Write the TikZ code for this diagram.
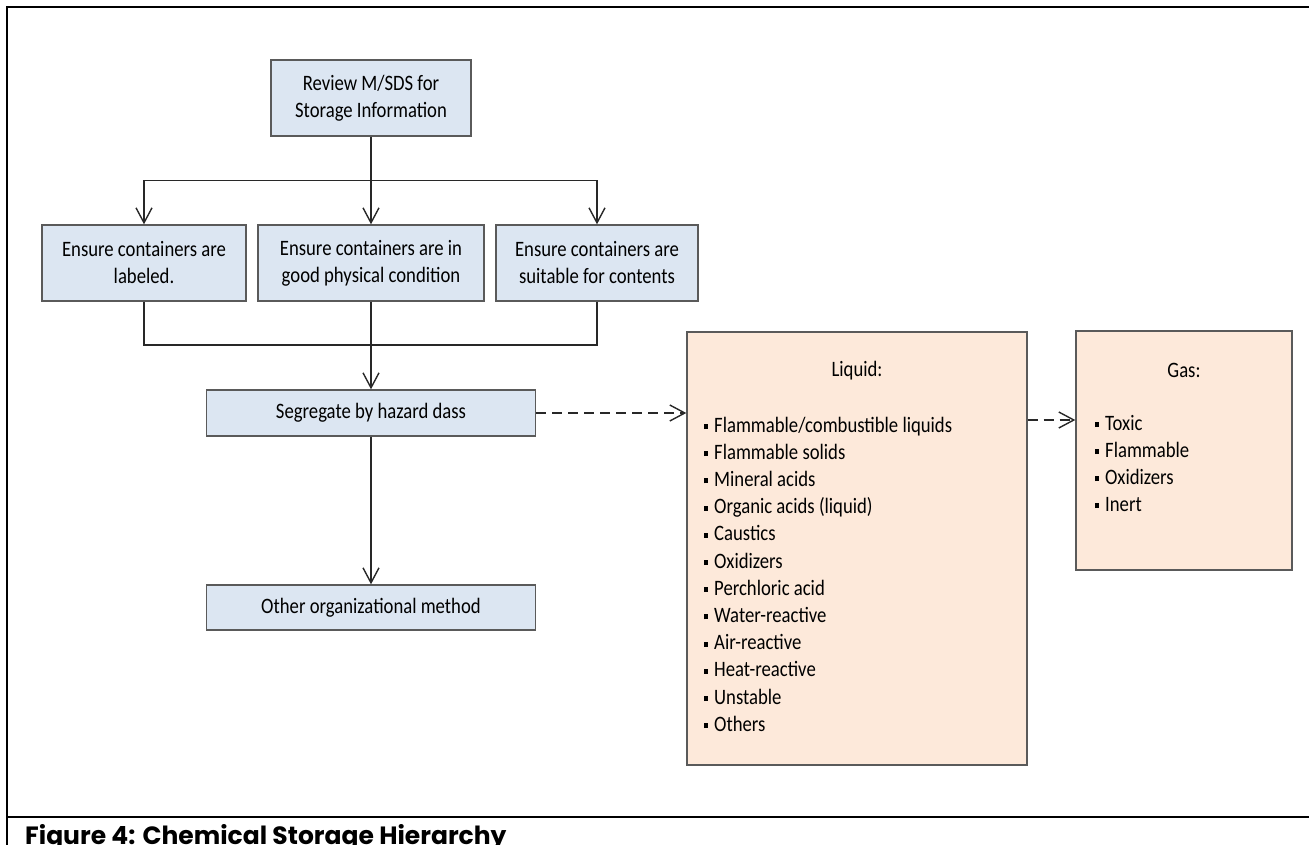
\documentclass[tikz,border=0pt]{standalone}
\usepackage{fontspec}
\setmainfont{Carlito}[FakeStretch=0.85]
\newfontfamily\capfont{Poppins}
\usetikzlibrary{arrows.meta}
\definecolor{boxblue}{RGB}{220, 230, 242}
\definecolor{boxpeach}{RGB}{253, 233, 218}
\definecolor{boxline}{RGB}{90, 90, 90}
\definecolor{linkgray}{RGB}{40, 40, 40}
\newcommand{\bul}{\rule[3pt]{4pt}{5pt}\hspace{6pt}}
\tikzset{
  bluebox/.style={draw=boxline, line width=1.4pt, fill=boxblue, align=center, inner sep=0pt, font=\fontsize{22}{27}\selectfont},
  peachbox/.style={draw=boxline, line width=1.4pt, fill=boxpeach, inner sep=0pt},
  boxhead/.style={inner sep=0pt, font=\fontsize{22}{27}\selectfont},
  listitem/.style={anchor=west, inner sep=0pt, text height=14pt, text depth=4pt, font=\fontsize{22}{27}\selectfont},
  link/.style={draw=linkgray, line width=1.4pt},
  dashlink/.style={link, dash pattern=on 10pt off 6pt},
  arrowlink/.style={-{Straight Barb[length=15pt, width=16pt, line width=1.4pt]}},
}

\begin{document}
\begin{tikzpicture}[x=1pt, y=-1pt]
      \useasboundingbox (0,0) rectangle (1309,845);

      % Frame
      \draw[line width=2.5pt] (7,845) -- (7,7) -- (1309,7);
      \draw[line width=2.5pt] (7,817) -- (1309,817);
      \node[anchor=base west, inner sep=0pt, font=\capfont\bfseries\fontsize{25}{28}\selectfont] (caption) at (25,844) {Figure 4: Chemical Storage Hierarchy};

      % Steps
      \node[bluebox, minimum width=200pt, minimum height=76pt] (review) at (371,98) {Review M/SDS for\\Storage Information};
      \node[bluebox, minimum width=204pt, minimum height=76pt] (labeled) at (144,263) {Ensure containers are\\labeled.};
      \node[bluebox, minimum width=226pt, minimum height=76pt] (condition) at (371,263) {Ensure containers are in\\good physical condition};
      \node[bluebox, minimum width=202pt, minimum height=76pt] (suitable) at (597,263) {Ensure containers are\\suitable for contents};
      \node[bluebox, minimum width=329pt, minimum height=46pt] (segregate) at (371,413) {Segregate by hazard dass};
      \node[bluebox, minimum width=329pt, minimum height=45pt] (other) at (371,607.5) {Other organizational method};

      % Classes
      \node[peachbox, minimum width=340pt, minimum height=433pt] (liquid) at (857,548.5) {};
      \node[peachbox, minimum width=216pt, minimum height=239pt] (gas) at (1184,450.5) {};
      \node[boxhead] (liqhead) at (857,371) {Liquid:};
      \node[boxhead] (gashead) at (1184,370) {Gas:};

      \node[listitem] (liq1) at (704,427) {\bul Flammable/combustible liquids};
      \node[listitem] (liq2) at (704,454.2) {\bul Flammable solids};
      \node[listitem] (liq3) at (704,481.4) {\bul Mineral acids};
      \node[listitem] (liq4) at (704,508.6) {\bul Organic acids (liquid)};
      \node[listitem] (liq5) at (704,535.8) {\bul Caustics};
      \node[listitem] (liq6) at (704,563) {\bul Oxidizers};
      \node[listitem] (liq7) at (704,590.2) {\bul Perchloric acid};
      \node[listitem] (liq8) at (704,617.4) {\bul Water-reactive};
      \node[listitem] (liq9) at (704,644.6) {\bul Air-reactive};
      \node[listitem] (liq10) at (704,671.8) {\bul Heat-reactive};
      \node[listitem] (liq11) at (704,699) {\bul Unstable};
      \node[listitem] (liq12) at (704,726.2) {\bul Others};

      \node[listitem] (gas1) at (1095,425) {\bul Toxic};
      \node[listitem] (gas2) at (1095,452) {\bul Flammable};
      \node[listitem] (gas3) at (1095,479) {\bul Oxidizers};
      \node[listitem] (gas4) at (1095,506) {\bul Inert};

      % Connectors
      \draw[link] (review.south) -- ++(0,44) coordinate (split);
      \draw[link, arrowlink] (split) -| (labeled.north);
      \draw[link, arrowlink] (split) -- (condition.north);
      \draw[link, arrowlink] (split) -| (suitable.north);

      \coordinate (merge) at (371,345);
      \draw[link] (labeled.south) |- (merge);
      \draw[link] (suitable.south) |- (merge);
      \draw[link] (condition.south) -- (merge);
      \draw[link, arrowlink] (merge) -- (segregate.north);
      \draw[link, arrowlink] (segregate.south) -- (other.north);

      \coordinate (gaslevel) at (0,420);
      \draw[dashlink, arrowlink] (segregate.east) -- (liquid.west |- segregate.east);
      \draw[dashlink, arrowlink] (liquid.east |- gaslevel) -- (gas.west |- gaslevel);
    \end{tikzpicture}
\end{document}
